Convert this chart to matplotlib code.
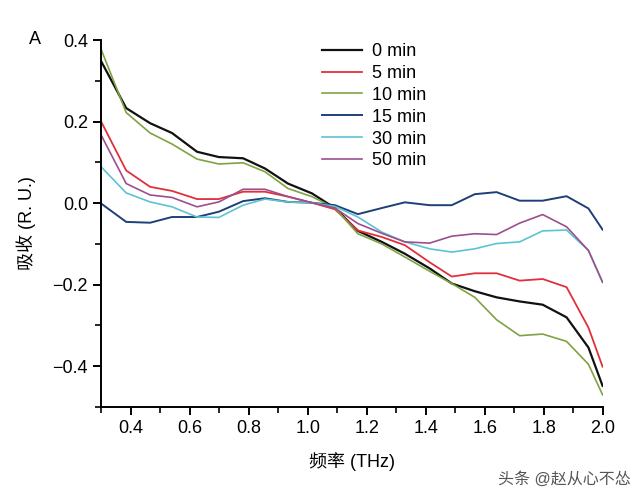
import matplotlib
matplotlib.use("Agg")
import matplotlib.pyplot as plt
from matplotlib.ticker import MultipleLocator

plt.rcParams['font.family'] = ['Liberation Sans', 'Noto Sans CJK SC', 'DejaVu Sans']

# frequency points (THz)
freq = [0.300, 0.385, 0.466, 0.540, 0.625, 0.699, 0.781, 0.855, 0.933, 1.014, 1.092,
        1.170, 1.251, 1.329, 1.413, 1.488, 1.566, 1.640, 1.718, 1.796, 1.877, 1.951, 1.999]

abs_0 = [0.348, 0.233, 0.196, 0.172, 0.126, 0.113, 0.110, 0.085, 0.048, 0.024, -0.012,
         -0.068, -0.095, -0.124, -0.160, -0.197, -0.216, -0.231, -0.241, -0.249, -0.280, -0.354, -0.448]
abs_5 = [0.200, 0.080, 0.040, 0.030, 0.010, 0.010, 0.028, 0.028, 0.016, 0.001, -0.015,
         -0.067, -0.083, -0.103, -0.145, -0.180, -0.172, -0.172, -0.190, -0.186, -0.206, -0.305, -0.401]
abs_10 = [0.377, 0.222, 0.172, 0.145, 0.108, 0.096, 0.099, 0.077, 0.036, 0.016, -0.012,
          -0.075, -0.100, -0.132, -0.167, -0.197, -0.231, -0.286, -0.325, -0.321, -0.339, -0.395, -0.470]
abs_15 = [-0.001, -0.046, -0.048, -0.034, -0.034, -0.021, 0.005, 0.012, 0.003, 0.001, -0.005,
          -0.027, -0.012, 0.002, -0.005, -0.005, 0.022, 0.027, 0.006, 0.006, 0.017, -0.013, -0.065]
abs_30 = [0.089, 0.025, 0.003, -0.009, -0.034, -0.035, -0.005, 0.010, 0.003, 0.001, -0.008,
          -0.034, -0.071, -0.095, -0.112, -0.120, -0.112, -0.099, -0.095, -0.068, -0.066, -0.116, -0.194]
abs_50 = [0.167, 0.048, 0.020, 0.014, -0.009, 0.003, 0.034, 0.034, 0.016, 0.001, -0.012,
          -0.050, -0.074, -0.095, -0.098, -0.081, -0.075, -0.077, -0.049, -0.028, -0.058, -0.116, -0.194]

labels = ["0 min", "5 min", "10 min", "15 min", "30 min", "50 min"]
series = [abs_0, abs_5, abs_10, abs_15, abs_30, abs_50]
colors = ["#111111", "#e0303c", "#7ea343", "#1e3f78", "#5cc3d3", "#9c4f8c"]
widths = [1.6, 1.3, 1.2, 1.4, 1.2, 1.2]

fig = plt.figure(figsize=(6.4, 4.94), dpi=100)
ax = fig.add_axes([0.158, 0.176, 0.784, 0.743])

for y, lab, c, w in zip(series, labels, colors, widths):
    ax.plot(freq, y, color=c, lw=w, label=lab)

ax.set_xlim(0.3, 2.0)
ax.set_ylim(-0.5, 0.4)
ax.xaxis.set_minor_locator(MultipleLocator(0.1))
ax.yaxis.set_minor_locator(MultipleLocator(0.1))
ax.set_xticks([0.4, 0.6, 0.8, 1.0, 1.2, 1.4, 1.6, 1.8, 2.0])
ax.set_yticks([-0.4, -0.2, 0.0, 0.2, 0.4])
ax.tick_params(which='major', direction='out', length=6, width=1.4, labelsize=13)
ax.tick_params(which='minor', direction='out', length=4, width=1.2)
for s in ['top', 'right']:
    ax.spines[s].set_visible(False)
for s in ['left', 'bottom']:
    ax.spines[s].set_linewidth(1.4)

ax.set_xlabel("频率 (THz)", fontsize=13, labelpad=11)
ax.set_ylabel("吸收 (R. U.)", fontsize=13, labelpad=12)

leg = ax.legend(loc='upper left', bbox_to_anchor=(0.408, 1.036), frameon=False,
                fontsize=13, handlelength=2.2, labelspacing=0.27, handletextpad=0.55)

fig.text(0.045, 0.91, "A", fontsize=13)
fig.text(0.985, 0.02, "头条 @赵从心不怂", fontsize=11.5, color="#555555", ha='right')

fig.savefig("out.png", dpi=100, facecolor="white")
